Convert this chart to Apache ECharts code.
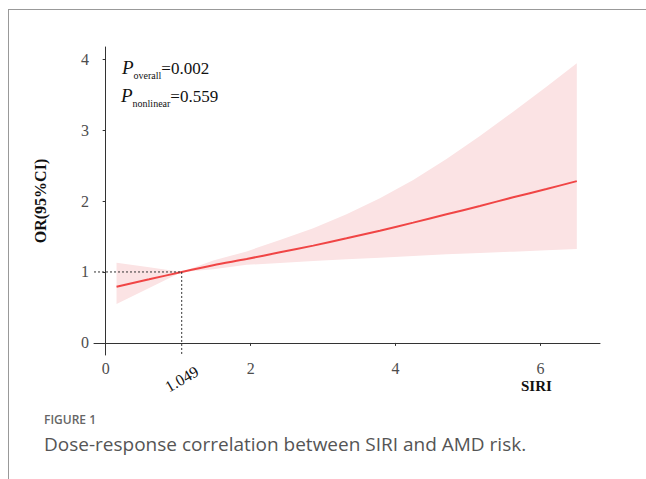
<!DOCTYPE html>
<html>
<head>
<meta charset="utf-8">
<script src="https://cdn.jsdelivr.net/npm/echarts@6/dist/echarts.min.js"></script>
<style>
html,body{margin:0;padding:0;background:#fff;}
#chart{width:646px;height:479px;}
</style>
</head>
<body>
<div id="chart"></div>
<script>
// ---- data ----
const siri  = [0.15, 0.6, 1.049, 1.484, 1.945, 2.404, 2.864, 3.323, 3.783, 4.243, 4.702, 5.163, 5.622, 6.081, 6.5];
const orVal = [0.793, 0.896, 1.0, 1.095, 1.183, 1.277, 1.371, 1.474, 1.582, 1.695, 1.812, 1.930, 2.052, 2.169, 2.28];
const ciLow = [0.549, 0.775, 1.0, 1.04, 1.10, 1.127, 1.155, 1.178, 1.202, 1.225, 1.249, 1.268, 1.286, 1.305, 1.324];
const ciUp  = [1.131, 1.066, 1.0, 1.16, 1.29, 1.451, 1.615, 1.812, 2.038, 2.296, 2.592, 2.915, 3.258, 3.610, 3.94];
const xTicks = [0, 2, 4, 6];
const yTicks = [0, 1, 2, 3, 4];
const refX = 1.049;
const refY = 1;
const xMin = -0.161, xMax = 6.82;
const yMin = -0.17, yMax = 4.17;

const chart = echarts.init(document.getElementById('chart'), null, {renderer: 'svg'});
const serif = 'Liberation Serif';
const sans = 'Open Sans';

const bandData = siri.map((x, i) => [x, ciLow[i], ciUp[i]]);

const option = {
  animation: false,
  backgroundColor: '#fff',
  grid: {left: 94, right: 46, top: 47, bottom: 124},
  xAxis: [{
    type: 'value', min: xMin, max: xMax,
    axisLine: {show: true, lineStyle: {color: '#333', width: 1}},
    axisTick: {show: true, length: 3, customValues: xTicks, lineStyle: {color: '#333'}},
    axisLabel: {customValues: xTicks, color: '#4d4d4d', fontFamily: serif, fontSize: 16, margin: 5},
    splitLine: {show: false}
  }, {
    type: 'value', min: xMin, max: xMax, position: 'bottom',
    axisLine: {show: false},
    axisTick: {show: false},
    axisLabel: {customValues: [refX], rotate: 30, align: 'center', verticalAlign: 'middle',
      color: '#111', fontFamily: serif, fontSize: 16, margin: 24,
      formatter: v => v.toFixed(3)},
    splitLine: {show: false}
  }],
  yAxis: {
    type: 'value', min: yMin, max: yMax,
    name: 'OR(95%CI)', nameLocation: 'middle', nameGap: 46,
    nameTextStyle: {color: '#111', fontFamily: serif, fontSize: 16, fontWeight: 'bold'},
    axisLine: {show: true, lineStyle: {color: '#333', width: 1}},
    axisTick: {show: true, length: 3, customValues: yTicks, lineStyle: {color: '#333'}},
    axisLabel: {customValues: yTicks, color: '#4d4d4d', fontFamily: serif, fontSize: 16, margin: 5},
    splitLine: {show: false}
  },
  series: [
    {
      type: 'custom', silent: true, z: 1,
      data: bandData,
      encode: {x: 0, y: [1, 2]},
      renderItem: function (params, api) {
        if (params.dataIndex !== 0) return null;
        const upper = bandData.map(d => api.coord([d[0], d[2]]));
        const lower = bandData.map(d => api.coord([d[0], d[1]])).reverse();
        return {
          type: 'polygon',
          shape: {points: upper.concat(lower)},
          style: {fill: '#fbe3e4', stroke: 'none'}
        };
      }
    },
    {
      type: 'line', symbol: 'none', smooth: 0.3,
      lineStyle: {color: '#f04545', width: 2},
      data: siri.map((x, i) => [x, orVal[i]]),
      z: 3
    },
    {
      type: 'line', symbol: 'none', silent: true,
      lineStyle: {color: '#333', width: 1, type: [2, 2]},
      data: [[xMin, refY], [refX, refY]],
      z: 4
    },
    {
      type: 'line', symbol: 'none', silent: true,
      lineStyle: {color: '#333', width: 1, type: [2, 2]},
      data: [[refX, refY], [refX, yMin]],
      z: 4
    }
  ],
  graphic: [
    {type: 'line', shape: {x1: 8, y1: 9.5, x2: 646, y2: 9.5}, style: {stroke: '#999', lineWidth: 1}},
    {type: 'line', shape: {x1: 8.5, y1: 9, x2: 8.5, y2: 479}, style: {stroke: '#999', lineWidth: 1}},
    {type: 'text', left: 122, top: 58, style: {
      text: '{p|P}{s|overall}{v|=0.002}',
      rich: {
        p: {fontFamily: serif, fontStyle: 'italic', fontSize: 19, fill: '#111', verticalAlign: 'bottom'},
        s: {fontFamily: serif, fontSize: 10, fill: '#111', verticalAlign: 'bottom', padding: [0,0,-3,0]},
        v: {fontFamily: serif, fontSize: 17, fill: '#111', verticalAlign: 'bottom'}
      }
    }},
    {type: 'text', left: 121, top: 86, style: {
      text: '{p|P}{s|nonlinear}{v|=0.559}',
      rich: {
        p: {fontFamily: serif, fontStyle: 'italic', fontSize: 19, fill: '#111', verticalAlign: 'bottom'},
        s: {fontFamily: serif, fontSize: 10, fill: '#111', verticalAlign: 'bottom', padding: [0,0,-3,0]},
        v: {fontFamily: serif, fontSize: 17, fill: '#111', verticalAlign: 'bottom'}
      }
    }},
    {type: 'text', left: 521, top: 378, style: {text: 'SIRI', fontFamily: serif, fontSize: 15, fontWeight: 'bold', fill: '#111'}},
    {type: 'text', left: 44, top: 413, style: {text: 'FIGURE 1', fontFamily: sans, fontSize: 12, fontWeight: 600, fill: '#666'}},
    {type: 'text', left: 44, top: 434, style: {text: 'Dose-response correlation between SIRI and AMD risk.', fontFamily: sans, fontSize: 19, fill: '#555'}}
  ]
};
chart.setOption(option);
</script>
</body>
</html>
